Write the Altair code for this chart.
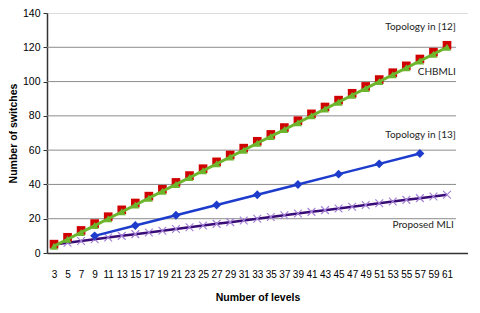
import altair as alt
import pandas as pd

levels = [3, 5, 7, 9, 11, 13, 15, 17, 19, 21, 23, 25, 27, 29, 31, 33, 35, 37, 39, 41,
          43, 45, 47, 49, 51, 53, 55, 57, 59, 61]
topology12 = [4, 8, 12, 16, 20, 24, 28, 32, 36, 40, 44, 48, 52, 56, 60, 64, 68, 72, 76, 80,
              84, 88, 92, 96, 100, 104, 108, 112, 116, 120]
chbmli = [4, 8, 12, 16, 20, 24, 28, 32, 36, 40, 44, 48, 52, 56, 60, 64, 68, 72, 76, 80,
          84, 88, 92, 96, 100, 104, 108, 112, 116, 120]
proposed = [5, 6, 7, 8, 9, 10, 11, 12, 13, 14, 15, 16, 17, 18, 19, 20, 21, 22, 23, 24,
            25, 26, 27, 28, 29, 30, 31, 32, 33, 34]
topo13_levels = [9, 15, 21, 27, 33, 39, 45, 51, 57]
topology13 = [10, 16, 22, 28, 34, 40, 46, 52, 58]

grid_values = [20, 40, 60, 80, 100, 120]
y_ticks = [0, 20, 40, 60, 80, 100, 120, 140]

ann_text = ["Topology in [12]", "CHBMLI", "Topology in [13]", "Proposed MLI"]
ann_x = [62.3, 62.3, 62.3, 62.0]
ann_y = [131.8, 105.6, 68.8, 16.3]

FONT = "Lato"

df = pd.DataFrame({"level": levels, "t12": topology12, "chb": chbmli, "prop": proposed})
df13 = pd.DataFrame({"level": topo13_levels, "t13": topology13})
grid = pd.DataFrame({"v": grid_values})
ann = pd.DataFrame({"text": ann_text, "x": ann_x, "y": ann_y})

xscale = alt.Scale(domain=[1.967, 64.1], nice=False, zero=False)
yscale = alt.Scale(domain=[0, 140], nice=False)

xax = alt.Axis(values=levels, title="Number of levels", grid=False, ticks=False,
               labelPadding=16, titlePadding=13, labelOverlap=False, labelFlush=False,
               labelFontSize=10, titleFontSize=10.5,
               domainColor="#333", domainWidth=1.5)
yax = alt.Axis(values=y_ticks, title="Number of switches", grid=False, tickSize=4,
               tickColor="#333", labelPadding=3, titlePadding=4,
               labelOverlap=False, labelFlush=False,
               labelFontSize=10.5, titleFontSize=10.5,
               domainColor="#333", domainWidth=1.5)

base = alt.Chart(df)

gridlines = alt.Chart(grid).mark_rule(color="#8c8c8c", strokeWidth=1).encode(
    y=alt.Y("v:Q", scale=yscale, axis=yax),
    x=alt.value(0), x2=alt.value(409),
)

purple_line = base.mark_line(color="#3a0c78", strokeWidth=2.5).encode(
    x=alt.X("level:Q", scale=xscale, axis=xax),
    y=alt.Y("prop:Q", scale=yscale, axis=yax),
)
purple_pts = base.mark_point(shape="M-1,-1L1,1M-1,1L1,-1", size=60, filled=False,
                             color="#a482d6", strokeWidth=1.2, opacity=1).encode(
    x=alt.X("level:Q", scale=xscale, axis=xax),
    y=alt.Y("prop:Q", scale=yscale, axis=yax),
)

blue_line = alt.Chart(df13).mark_line(color="#1d3ccc", strokeWidth=2.5).encode(
    x=alt.X("level:Q", scale=xscale, axis=xax),
    y=alt.Y("t13:Q", scale=yscale, axis=yax),
)
blue_pts = alt.Chart(df13).mark_point(shape="diamond", size=80, filled=True,
                                      color="#1d3ccc", opacity=1).encode(
    x=alt.X("level:Q", scale=xscale, axis=xax),
    y=alt.Y("t13:Q", scale=yscale, axis=yax),
)

red_pts = base.mark_point(shape="square", size=75, filled=True, color="#d00000",
                          opacity=1).encode(
    x=alt.X("level:Q", scale=xscale, axis=xax),
    y=alt.Y("t12:Q", scale=yscale, axis=yax),
    yOffset=alt.value(-2),
)
green_line = base.mark_line(color="#6cb52d", strokeWidth=3).encode(
    x=alt.X("level:Q", scale=xscale, axis=xax),
    y=alt.Y("chb:Q", scale=yscale, axis=yax),
)
green_pts = base.mark_point(shape="triangle-up", size=65, filled=True, color="#6cb52d",
                            opacity=1).encode(
    x=alt.X("level:Q", scale=xscale, axis=xax),
    y=alt.Y("chb:Q", scale=yscale, axis=yax),
)

labels = alt.Chart(ann).mark_text(align="right", baseline="middle", font=FONT,
                                  fontSize=10, color="#222").encode(
    x=alt.X("x:Q", scale=xscale, axis=xax),
    y=alt.Y("y:Q", scale=yscale, axis=yax),
    text="text:N",
)

chart = alt.layer(
    gridlines, purple_line, purple_pts, blue_line, blue_pts,
    red_pts, green_line, green_pts, labels
).properties(
    width=421, height=240, padding={"left": 0, "top": 0, "right": 0, "bottom": 0}
).configure_view(
    stroke="#7a7a7a", strokeWidth=1.5
).configure_axis(
    labelFont=FONT, titleFont=FONT, labelFontWeight="bold", titleFontWeight="bold",
    labelColor="#111", titleColor="#111", labelOverlap=False
).configure(background="white")

chart.save("out.html", embed_options={"renderer": "svg", "actions": False})
